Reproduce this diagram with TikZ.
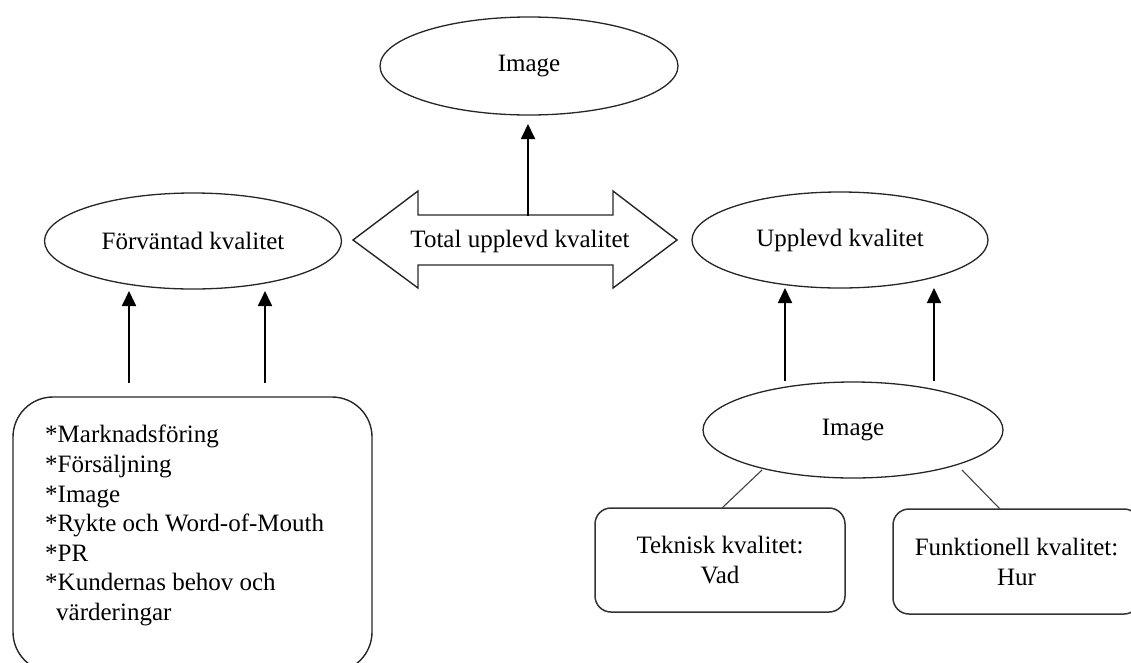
\documentclass[tikz,border=0pt]{standalone}
\usepackage{fontspec}
\setmainfont{Liberation Serif}
\usetikzlibrary{shapes.geometric,arrows.meta}
\begin{document}
\begin{tikzpicture}[x=1pt,y=-1pt,
  every node/.style={font=\fontsize{25}{30}\selectfont, text=black},
  oval/.style={draw=black!85, ellipse, line width=1.3pt, inner sep=0pt},
  arr/.style={line width=1.8pt, -{Triangle[length=15pt,width=14pt]}},
  link/.style={line width=1.1pt, draw=black!75},
  rbox/.style={draw=black!80, rounded corners=16pt, line width=1.5pt, align=center}]
\useasboundingbox (0,0) rectangle (1131,662);
\clip (0,0) rectangle (1131,662);

% ellipses
\node[oval, minimum width=298pt, minimum height=98pt] (img) at (529,66) {Image};
\node[oval, minimum width=297pt, minimum height=96pt] (fk) at (193,241) {Förväntad kvalitet};
\node[oval, minimum width=296pt, minimum height=96pt] (uk) at (840,240) {Upplevd kvalitet};
\node[oval, minimum width=300pt, minimum height=96pt] (img2) at (853,430) {Image};

% double arrow
\draw[line width=1.4pt, draw=black!85] (353,240) -- (418,191) -- (418,215) -- (613,215) -- (613,191)
  -- (677,240) -- (613,288) -- (613,265) -- (418,265) -- (418,288) -- cycle;
\node (tuk) at (520,241) {Total upplevd kvalitet};

% left source box
\draw[draw=black!85, rounded corners=40pt, line width=1.4pt] (13,397) rectangle (372,672);
\node[anchor=north west, align=left, inner sep=0pt, font=\fontsize{25}{29.6}\selectfont] (src) at (45,425)
  {*Marknadsföring\\*Försäljning\\*Image\\*Rykte och Word-of-Mouth\\*PR\\*Kundernas behov och\\\hspace*{11pt}värderingar};

% bottom-right boxes
\node[rbox, minimum width=250pt, minimum height=104pt] (tek) at (720,560) {Teknisk kvalitet:\\Vad};
\node[rbox, minimum width=247pt, minimum height=105pt] (fun) at (1016.5,561.5) {Funktionell kvalitet:\\Hur};

% connector coordinates
\coordinate (t0) at (528,216); \coordinate (t1) at (528,124);
\coordinate (a0) at (129,383); \coordinate (a1) at (129,291);
\coordinate (b0) at (265,383); \coordinate (b1) at (265,291);
\coordinate (c0) at (785,381); \coordinate (c1) at (785,288);
\coordinate (d0) at (934,381); \coordinate (d1) at (934,288);
\coordinate (l0) at (762,470); \coordinate (l1) at (722,508);
\coordinate (r0) at (962,470); \coordinate (r1) at (1000,509);

\draw[arr] (t0) -- (t1);
\draw[arr] (a0) -- (a1);
\draw[arr] (b0) -- (b1);
\draw[arr] (c0) -- (c1);
\draw[arr] (d0) -- (d1);
\draw[link] (l0) -- (l1);
\draw[link] (r0) -- (r1);
\end{tikzpicture}
\end{document}
